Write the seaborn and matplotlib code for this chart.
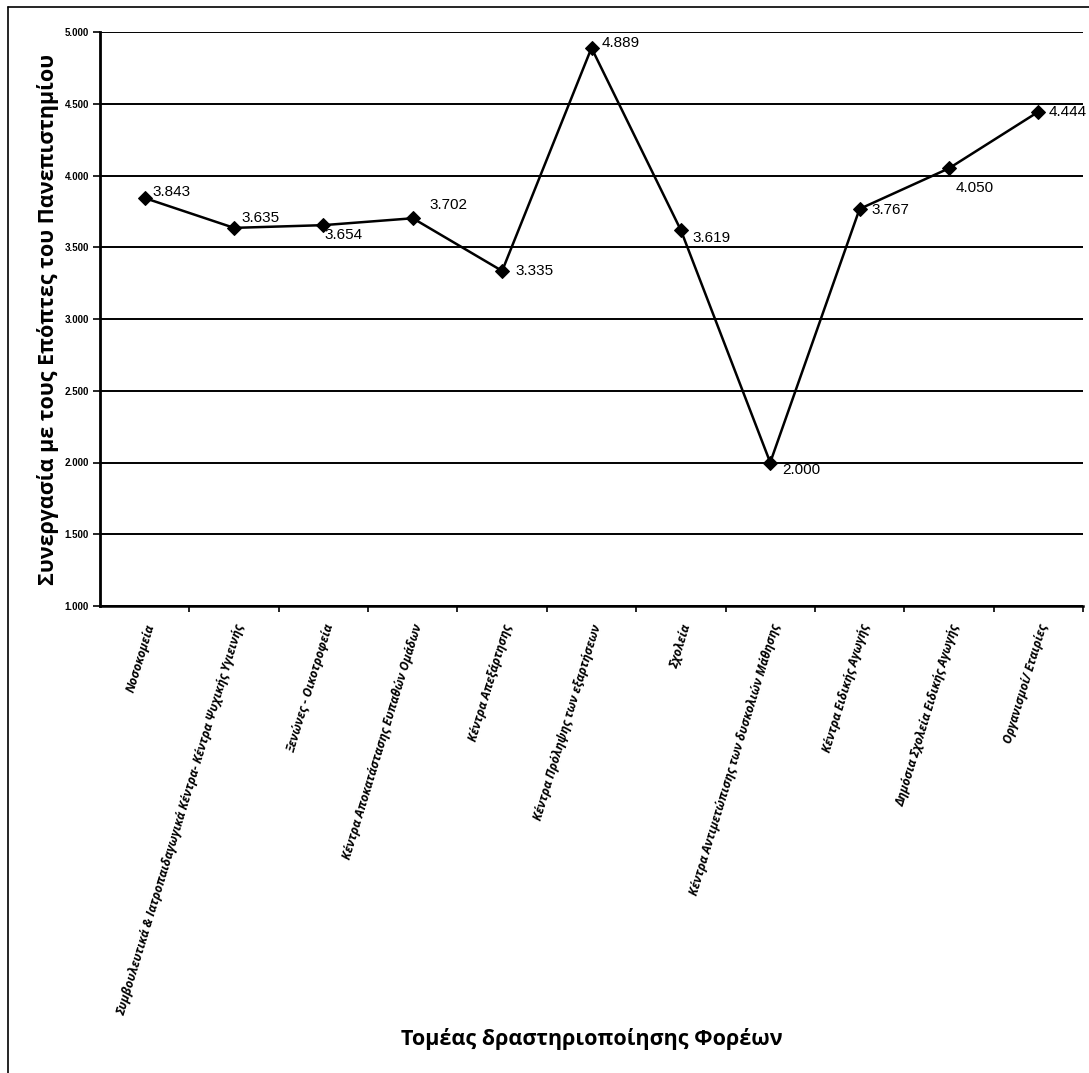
import matplotlib
matplotlib.use("Agg")
import matplotlib.pyplot as plt
import matplotlib.ticker as mticker
from matplotlib.lines import Line2D
import seaborn as sns
import pandas as pd
import numpy as np

categories = [
    "Νοσοκομεία",
    "Συμβουλευτικά & Ιατροπαιδαγωγικά Κέντρα- Κέντρα Ψυχικής Υγιεινής",
    "Ξενώνες - Οικοτροφεία",
    "Κέντρα Αποκατάστασης Ευπαθών Ομάδων",
    "Κέντρα Απεξάρτησης",
    "Κέντρα Πρόληψης των εξαρτήσεων",
    "Σχολεία",
    "Κέντρα Αντιμετώπισης των δυσκολιών Μάθησης",
    "Κέντρα Ειδικής Αγωγής",
    "Δημόσια Σχολεία Ειδικής Αγωγής",
    "Οργανισμοί/ Εταιρίες",
]
values = [3.843, 3.635, 3.654, 3.702, 3.335, 4.889, 3.619, 2.000, 3.767, 4.050, 4.444]
y_ticks = [1.0, 1.5, 2.0, 2.5, 3.0, 3.5, 4.0, 4.5, 5.0]
y_label = "Συνεργασία με τους Επόπτες του Πανεπιστημίου"
x_label = "Τομέας δραστηριοποίησης Φορέων"

# label offsets in pixels (dx right, dy down)
label_offsets_px = [(8, -6), (7, -10), (1, 10), (17, -13), (13, 0),
                    (10, -5), (12, 8), (12, 8), (12, 1), (7, 20), (10, 0)]

sns.set_theme(style="white")
plt.rcParams['font.family'] = ['Liberation Sans', 'DejaVu Sans']
for k in ['text.color', 'axes.labelcolor', 'xtick.color', 'ytick.color', 'axes.edgecolor']:
    plt.rcParams[k] = 'black'

fig = plt.figure(figsize=(10.89, 10.73), dpi=100)
ax = fig.add_axes([100/1089, 1 - 606/1073, (1083-100)/1089, (606-32)/1073])

df = pd.DataFrame({"cat": categories, "val": values})
df["pos"] = np.arange(len(categories))
sns.lineplot(data=df, x="pos", y="val", ax=ax, color="black", linewidth=1.8,
             marker="D", markersize=7, markeredgecolor="black",
             markerfacecolor="black", sort=False)

ax.set_xlim(-0.5, len(categories) - 0.5)
ax.set_ylim(1.0, 5.0)
ax.set_yticks(y_ticks)
ax.yaxis.set_major_formatter(mticker.FuncFormatter(lambda v, p: f"{v:.3f}"))
for lbl in ax.get_yticklabels():
    lbl.set_fontweight("bold")
    lbl.set_fontsize(7)
ax.tick_params(axis="y", which="major", direction="out", length=5, width=1.2,
               color="black", left=True, pad=3)

ax.grid(axis="y", color="black", linewidth=1.4)
ax.grid(axis="x", visible=False)

ax.set_xticks(np.arange(len(categories)))
ax.set_xticklabels(categories, rotation=73, ha="right", va="top",
                   rotation_mode="anchor", fontsize=8.8, fontweight="bold",
                   family=["Open Sans", "DejaVu Sans"], style="italic")
ax.tick_params(axis="x", which="major", length=0, pad=12)
ax.set_xticks(np.arange(len(categories)) + 0.5, minor=True)
ax.tick_params(axis="x", which="minor", direction="out", length=4, width=1.2,
               color="black", bottom=True)

for side in ["top", "right"]:
    ax.spines[side].set_visible(False)
ax.spines["left"].set_color("black")
ax.spines["left"].set_linewidth(2.0)
ax.spines["bottom"].set_color("black")
ax.spines["bottom"].set_linewidth(1.8)

for i, (v, (dx, dy)) in enumerate(zip(values, label_offsets_px)):
    ax.annotate(f"{v:.3f}", xy=(i, v), xytext=(dx * 0.72, -dy * 0.72),
                textcoords="offset points", ha="left", va="center",
                fontsize=11, color="black")

ax.set_ylabel(y_label, fontsize=15.5, fontweight="bold",
              family=["Open Sans", "DejaVu Sans"])
ax.yaxis.set_label_coords(-0.042, 0.5)
ax.set_xlabel(x_label, fontsize=15.5, fontweight="bold",
              family=["Open Sans", "DejaVu Sans"])
ax.xaxis.set_label_coords(0.5, -0.735)

# outer frame lines (left and top)
fig.add_artist(Line2D([8/1089, 8/1089], [0, 1 - 7/1073], color="black",
                      linewidth=1.2, transform=fig.transFigure))
fig.add_artist(Line2D([8/1089, 1], [1 - 7/1073, 1 - 7/1073], color="black",
                      linewidth=1.2, transform=fig.transFigure))

fig.savefig("out.png", dpi=100, facecolor="white")
